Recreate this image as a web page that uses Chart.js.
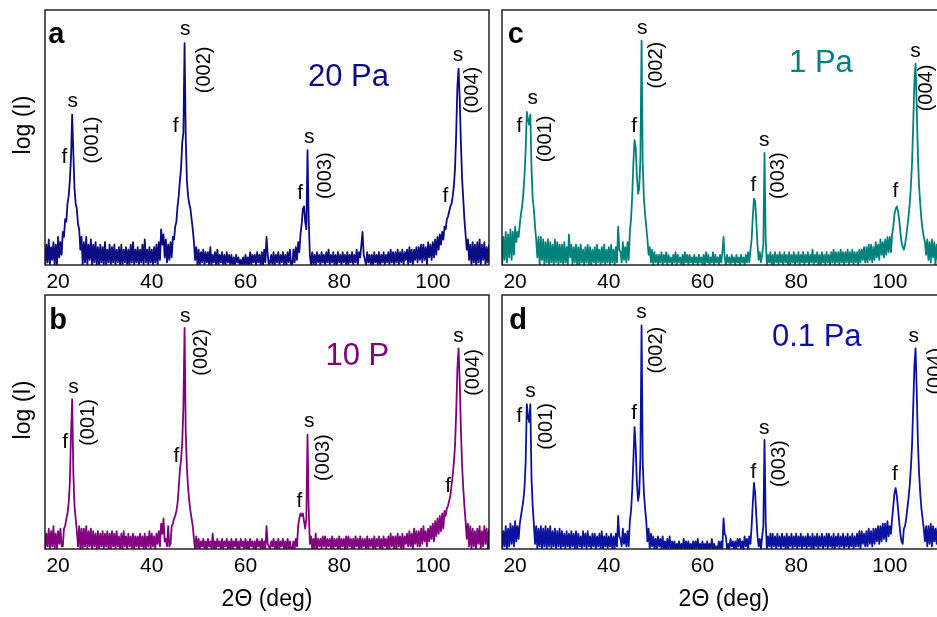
<!DOCTYPE html>
<html>
<head>
<meta charset="utf-8">
<script src="https://cdn.jsdelivr.net/npm/chart.js@4.4.1/dist/chart.umd.min.js"></script>
<style>
  html, body { margin: 0; padding: 0; background: #fff; overflow: hidden; width: 937px; height: 617px; }
  canvas { position: absolute; }
</style>
</head>
<body>
<canvas id="pa" width="495" height="295" style="left:0;top:0"></canvas>
<canvas id="pc" width="495" height="295" style="left:457px;top:0"></canvas>
<canvas id="pb" width="495" height="332" style="left:0;top:285px"></canvas>
<canvas id="pd" width="495" height="332" style="left:457px;top:285px"></canvas>
<script>
// 2theta scan points (deg), one row = 5 deg
const twoTheta = [
  17, 17.25, 17.5, 17.75, 18, 18.25, 18.5, 18.75, 19, 19.25, 19.5, 19.75, 20, 20.25, 20.5, 20.75, 21, 21.25, 21.5, 21.75,
  22, 22.25, 22.5, 22.75, 23, 23.25, 23.5, 23.75, 24, 24.25, 24.5, 24.75, 25, 25.25, 25.5, 25.75, 26, 26.25, 26.5, 26.75,
  27, 27.25, 27.5, 27.75, 28, 28.25, 28.5, 28.75, 29, 29.25, 29.5, 29.75, 30, 30.25, 30.5, 30.75, 31, 31.25, 31.5, 31.75,
  32, 32.25, 32.5, 32.75, 33, 33.25, 33.5, 33.75, 34, 34.25, 34.5, 34.75, 35, 35.25, 35.5, 35.75, 36, 36.25, 36.5, 36.75,
  37, 37.25, 37.5, 37.75, 38, 38.25, 38.5, 38.75, 39, 39.25, 39.5, 39.75, 40, 40.25, 40.5, 40.75, 41, 41.25, 41.5, 41.75,
  42, 42.25, 42.5, 42.75, 43, 43.25, 43.5, 43.75, 44, 44.25, 44.5, 44.75, 45, 45.25, 45.5, 45.75, 46, 46.25, 46.5, 46.75,
  47, 47.25, 47.5, 47.75, 48, 48.25, 48.5, 48.75, 49, 49.25, 49.5, 49.75, 50, 50.25, 50.5, 50.75, 51, 51.25, 51.5, 51.75,
  52, 52.25, 52.5, 52.75, 53, 53.25, 53.5, 53.75, 54, 54.25, 54.5, 54.75, 55, 55.25, 55.5, 55.75, 56, 56.25, 56.5, 56.75,
  57, 57.25, 57.5, 57.75, 58, 58.25, 58.5, 58.75, 59, 59.25, 59.5, 59.75, 60, 60.25, 60.5, 60.75, 61, 61.25, 61.5, 61.75,
  62, 62.25, 62.5, 62.75, 63, 63.25, 63.5, 63.75, 64, 64.25, 64.5, 64.75, 65, 65.25, 65.5, 65.75, 66, 66.25, 66.5, 66.75,
  67, 67.25, 67.5, 67.75, 68, 68.25, 68.5, 68.75, 69, 69.25, 69.5, 69.75, 70, 70.25, 70.5, 70.75, 71, 71.25, 71.5, 71.75,
  72, 72.25, 72.5, 72.75, 73, 73.25, 73.5, 73.75, 74, 74.25, 74.5, 74.75, 75, 75.25, 75.5, 75.75, 76, 76.25, 76.5, 76.75,
  77, 77.25, 77.5, 77.75, 78, 78.25, 78.5, 78.75, 79, 79.25, 79.5, 79.75, 80, 80.25, 80.5, 80.75, 81, 81.25, 81.5, 81.75,
  82, 82.25, 82.5, 82.75, 83, 83.25, 83.5, 83.75, 84, 84.25, 84.5, 84.75, 85, 85.25, 85.5, 85.75, 86, 86.25, 86.5, 86.75,
  87, 87.25, 87.5, 87.75, 88, 88.25, 88.5, 88.75, 89, 89.25, 89.5, 89.75, 90, 90.25, 90.5, 90.75, 91, 91.25, 91.5, 91.75,
  92, 92.25, 92.5, 92.75, 93, 93.25, 93.5, 93.75, 94, 94.25, 94.5, 94.75, 95, 95.25, 95.5, 95.75, 96, 96.25, 96.5, 96.75,
  97, 97.25, 97.5, 97.75, 98, 98.25, 98.5, 98.75, 99, 99.25, 99.5, 99.75, 100, 100.25, 100.5, 100.75, 101, 101.25, 101.5, 101.75,
  102, 102.25, 102.5, 102.75, 103, 103.25, 103.5, 103.75, 104, 104.25, 104.5, 104.75, 105, 105.25, 105.5, 105.75, 106, 106.25, 106.5, 106.75,
  107, 107.25, 107.5, 107.75, 108, 108.25, 108.5, 108.75, 109, 109.25, 109.5, 109.75, 110, 110.25, 110.5, 110.75, 111, 111.25, 111.5, 111.75,
  112
];

// log(I), arbitrary units (0 = frame bottom, 100 = frame top)
const logI_20Pa = [
  9, 0, 8, 1, 10, 0, 7, 2, 9, 0, 8, 0, 11, 3, 9, 4, 13, 11, 18, 17,
  24, 27, 33, 42, 59, 44, 30, 24, 22, 16, 14, 6, 11, 0, 9, 1, 11, 0, 8, 2,
  10, 0, 8, 1, 9, 0, 7, 0, 8, 1, 7, 0, 9, 0, 6, 1, 8, 0, 7, 1,
  8, 0, 6, 1, 7, 0, 8, 0, 6, 1, 7, 0, 6, 0, 8, 1, 9, 0, 6, 1,
  7, 0, 6, 1, 8, 0, 10, 1, 6, 0, 7, 1, 6, 0, 7, 1, 8, 0, 9, 2,
  14, 8, 12, 3, 10, 1, 8, 2, 9, 3, 11, 10, 15, 17, 23, 27, 33, 38, 48, 52,
  87, 50, 33, 27, 24, 22, 18, 14, 9, 2, 7, 0, 6, 0, 5, 1, 6, 0, 5, 1,
  5, 0, 7, 0, 4, 1, 5, 0, 6, 0, 4, 1, 5, 0, 4, 0, 5, 1, 4, 0,
  4, 0, 3, 0, 4, 1, 3, 0, 2, 0, 3, 0, 4, 0, 3, 0, 5, 0, 4, 1,
  4, 0, 5, 1, 4, 0, 5, 0, 6, 1, 11, 4, 0, 1, 4, 0, 5, 0, 4, 1,
  5, 0, 4, 1, 5, 0, 4, 0, 5, 1, 6, 0, 0, 6, 1, 7, 2, 9, 5, 12,
  16, 22, 23, 17, 14, 45, 18, 4, 0, 5, 0, 4, 0, 5, 1, 4, 0, 5, 1, 4,
  0, 5, 1, 6, 0, 4, 1, 5, 0, 4, 0, 5, 1, 4, 0, 5, 1, 4, 0, 5,
  0, 4, 1, 5, 0, 4, 1, 6, 0, 5, 3, 8, 13, 4, 2, 0, 5, 1, 4, 0,
  4, 0, 5, 1, 4, 0, 5, 0, 4, 1, 5, 0, 4, 1, 5, 0, 6, 1, 5, 0,
  5, 1, 6, 0, 5, 1, 6, 0, 5, 2, 6, 0, 7, 1, 6, 0, 6, 2, 7, 1,
  7, 2, 8, 1, 8, 2, 7, 0, 9, 3, 8, 2, 9, 3, 10, 4, 11, 6, 12, 8,
  13, 10, 15, 14, 18, 19, 21, 23, 24, 27, 31, 38, 52, 70, 77, 65, 48, 34, 26, 18,
  12, 6, 10, 2, 8, 0, 9, 1, 8, 0, 9, 1, 10, 0, 8, 2, 9, 0, 7, 1,
  8
];
const logI_10Pa = [
  7, 0, 6, 1, 8, 0, 7, 1, 9, 0, 6, 0, 7, 2, 8, 1, 1, 8, 9, 12,
  14, 18, 26, 45, 59, 30, 17, 12, 7, 1, 9, 0, 8, 0, 8, 1, 9, 0, 7, 1,
  8, 0, 7, 1, 6, 0, 7, 0, 6, 1, 7, 0, 6, 1, 7, 0, 6, 0, 7, 1,
  6, 0, 7, 1, 5, 0, 6, 0, 7, 1, 5, 0, 6, 1, 5, 0, 6, 0, 5, 1,
  5, 0, 6, 1, 5, 0, 6, 0, 5, 1, 7, 0, 6, 1, 5, 0, 6, 2, 7, 1,
  10, 6, 12, 3, 4, 1, 9, 1, 2, 9, 10, 12, 13, 15, 18, 24, 31, 35, 42, 56,
  87, 46, 32, 24, 19, 15, 12, 9, 4, 0, 5, 0, 4, 0, 3, 1, 4, 0, 3, 0,
  4, 1, 3, 0, 6, 0, 3, 0, 4, 1, 3, 0, 4, 0, 3, 1, 4, 0, 3, 0,
  4, 0, 3, 1, 4, 0, 3, 0, 4, 1, 3, 0, 4, 0, 3, 0, 4, 1, 3, 0,
  3, 0, 4, 1, 3, 0, 4, 0, 3, 0, 9, 2, 1, 0, 3, 1, 4, 0, 3, 0,
  4, 0, 3, 1, 4, 0, 3, 0, 4, 0, 3, 0, 0, 3, 0, 4, 1, 9, 12, 14,
  13, 14, 11, 8, 12, 45, 16, 2, 5, 0, 4, 0, 6, 0, 4, 1, 4, 0, 5, 1,
  5, 0, 4, 1, 4, 0, 5, 0, 4, 1, 4, 0, 5, 0, 4, 1, 4, 0, 5, 0,
  5, 1, 4, 0, 4, 0, 5, 1, 4, 0, 5, 0, 4, 1, 4, 0, 5, 0, 4, 1,
  4, 0, 5, 0, 4, 1, 5, 0, 4, 0, 5, 1, 4, 0, 5, 0, 6, 1, 5, 0,
  5, 0, 6, 1, 5, 0, 6, 0, 5, 2, 6, 1, 7, 1, 6, 0, 8, 2, 7, 1,
  7, 1, 8, 2, 9, 3, 7, 1, 8, 3, 9, 4, 10, 3, 11, 5, 12, 6, 13, 7,
  14, 8, 15, 13, 16, 17, 19, 21, 25, 29, 34, 41, 54, 71, 79, 66, 47, 33, 24, 17,
  11, 4, 10, 1, 9, 0, 8, 1, 7, 0, 8, 2, 9, 0, 7, 1, 9, 2, 8, 0,
  8
];
const logI_1Pa = [
  12, 0, 11, 2, 13, 1, 12, 3, 14, 2, 13, 4, 15, 9, 13, 11, 16, 20, 23, 28,
  35, 45, 60, 57, 55, 59, 38, 26, 22, 15, 10, 3, 11, 0, 11, 2, 10, 0, 9, 1,
  10, 0, 9, 1, 8, 0, 10, 1, 9, 0, 8, 1, 8, 0, 9, 1, 7, 0, 12, 3,
  8, 0, 7, 1, 8, 0, 7, 0, 8, 1, 6, 0, 7, 1, 8, 0, 7, 0, 6, 1,
  7, 0, 8, 1, 6, 0, 7, 1, 8, 0, 6, 1, 7, 0, 8, 1, 6, 0, 7, 1,
  15, 6, 5, 1, 9, 2, 7, 1, 9, 2, 13, 18, 27, 40, 49, 46, 35, 28, 30, 42,
  88, 40, 26, 20, 15, 10, 4, 7, 1, 6, 0, 5, 1, 4, 0, 4, 1, 5, 0, 4,
  1, 5, 0, 4, 1, 3, 0, 4, 1, 5, 0, 4, 1, 3, 0, 4, 0, 5, 1, 4,
  0, 4, 1, 3, 0, 4, 1, 3, 0, 4, 1, 3, 0, 4, 0, 5, 1, 4, 0, 3,
  1, 5, 0, 4, 1, 3, 0, 4, 1, 5, 11, 3, 0, 4, 1, 3, 0, 4, 1, 3,
  0, 4, 1, 3, 0, 4, 1, 3, 0, 4, 1, 5, 1, 6, 10, 19, 26, 25, 17, 8,
  2, 5, 1, 4, 8, 44, 10, 0, 4, 1, 5, 0, 4, 0, 5, 1, 4, 0, 5, 1,
  4, 0, 5, 1, 4, 0, 5, 0, 4, 1, 5, 0, 4, 1, 5, 0, 4, 1, 5, 0,
  4, 1, 5, 0, 4, 1, 6, 0, 4, 1, 5, 0, 4, 0, 5, 1, 4, 0, 5, 1,
  4, 0, 5, 1, 6, 0, 5, 1, 5, 0, 6, 1, 5, 0, 5, 1, 6, 0, 5, 1,
  6, 0, 5, 1, 5, 0, 6, 1, 6, 2, 7, 1, 7, 1, 8, 2, 8, 1, 7, 2,
  9, 3, 8, 2, 10, 4, 9, 3, 10, 4, 11, 5, 11, 5, 12, 15, 20, 22, 23, 21,
  18, 13, 9, 7, 6, 8, 11, 15, 19, 24, 31, 40, 55, 72, 79, 62, 43, 31, 24, 18,
  14, 11, 9, 4, 10, 2, 9, 1, 10, 3, 9, 0, 8, 2, 10, 1, 9, 3, 8, 1,
  9
];
const logI_01Pa = [
  8, 0, 7, 1, 9, 0, 8, 1, 10, 2, 9, 1, 11, 3, 9, 4, 10, 13, 16, 19,
  24, 34, 57, 52, 50, 57, 28, 17, 10, 2, 9, 0, 8, 1, 9, 0, 8, 1, 9, 0,
  8, 1, 9, 0, 7, 1, 8, 0, 7, 1, 8, 0, 7, 1, 6, 0, 7, 1, 6, 0,
  7, 1, 6, 0, 7, 0, 6, 1, 5, 0, 7, 1, 6, 0, 7, 1, 5, 0, 6, 1,
  6, 0, 5, 1, 6, 0, 7, 0, 5, 1, 6, 0, 5, 1, 6, 0, 5, 0, 6, 1,
  13, 5, 4, 1, 8, 2, 6, 1, 7, 1, 11, 15, 23, 35, 48, 40, 26, 19, 22, 36,
  88, 34, 22, 16, 11, 3, 8, 0, 6, 1, 5, 0, 4, 0, 5, 1, 4, 0, 5, 0,
  3, 0, 4, 0, 5, 0, 3, 0, 3, 0, 2, 0, 3, 0, 2, 0, 4, 0, 3, 0,
  3, 0, 2, 0, 3, 0, 3, 0, 4, 0, 2, 0, 3, 0, 2, 0, 3, 0, 2, 0,
  4, 0, 2, 0, 1, 0, 3, 0, 3, 0, 12, 6, 5, 0, 2, 0, 4, 1, 3, 0,
  3, 0, 4, 1, 4, 0, 3, 0, 5, 1, 4, 0, 5, 2, 9, 18, 26, 22, 13, 5,
  1, 4, 0, 5, 9, 43, 11, 0, 5, 1, 6, 0, 6, 1, 5, 0, 6, 1, 5, 0,
  6, 1, 5, 0, 6, 0, 5, 1, 6, 0, 5, 1, 6, 0, 5, 1, 6, 0, 5, 1,
  5, 0, 6, 1, 5, 0, 6, 0, 5, 1, 6, 0, 5, 1, 6, 0, 5, 1, 6, 0,
  6, 1, 5, 0, 6, 0, 5, 1, 6, 0, 5, 1, 6, 0, 5, 1, 6, 0, 5, 1,
  6, 0, 5, 1, 6, 1, 7, 0, 7, 2, 6, 1, 7, 1, 8, 2, 7, 1, 8, 2,
  8, 3, 9, 2, 9, 3, 10, 4, 10, 3, 11, 5, 9, 6, 12, 17, 22, 24, 21, 16,
  11, 6, 3, 2, 8, 9, 12, 16, 20, 25, 32, 41, 56, 72, 79, 62, 42, 30, 22, 16,
  12, 8, 3, 9, 1, 9, 2, 10, 1, 9, 3, 8, 2, 9, 1, 10, 2, 9, 3, 8,
  2
];

const xTicks = [20, 40, 60, 80, 100];
const xMin = 17.2, xMax = 112;

// peak labels: [text, 2theta, logI, rotated]
const notes20Pa = [
  ['s', 23.13, 62.1], ['f', 21.34, 39.9], ['(001)', 27.3, 49, 1],
  ['s', 47.17, 90.2], ['f', 45.1, 52.3], ['(002)', 51.3, 76.5, 1],
  ['s', 73.6, 47.7], ['f', 71.7, 25.8], ['(003)', 77, 35, 1],
  ['s', 105.4, 80.1], ['f', 102.7, 24.8], ['(004)', 108.5, 68.6, 1]
];
const notes10Pa = [
  ['s', 23.26, 61.3], ['f', 21.5, 39.6], ['(001)', 26.4, 49.8, 1],
  ['s', 47.17, 89.5], ['f', 45.25, 34.4], ['(002)', 50.6, 77.4, 1],
  ['s', 73.6, 47.9], ['f', 71.5, 16.7], ['(003)', 76.6, 36, 1],
  ['s', 105.5, 81.6], ['f', 103.3, 22.6], ['(004)', 108.7, 69.5, 1]
];
const notes1Pa = [
  ['s', 23.77, 63.1], ['f', 20.9, 52.3], ['(001)', 26.4, 49.4, 1],
  ['s', 47.17, 90.6], ['f', 45.4, 52.3], ['(002)', 50.1, 78.4, 1],
  ['s', 73.2, 46.7], ['f', 70.9, 29.1], ['(003)', 76.2, 35, 1],
  ['s', 105.5, 81.4], ['f', 101.2, 26.5], ['(004)', 107.9, 69.4, 1]
];
const notes01Pa = [
  ['s', 23.3, 60], ['f', 20.9, 49.9], ['(001)', 26.6, 48.3, 1],
  ['s', 47, 90.8], ['f', 45.4, 51], ['(002)', 50.1, 78.3, 1],
  ['s', 73.2, 45.1], ['f', 70.9, 27.9], ['(003)', 76.4, 33.6, 1],
  ['s', 105.1, 81.3], ['f', 101.1, 27.3], ['(004)', 109.8, 70, 1]
];

const FONT = '"Liberation Sans", Arial, sans-serif';

const panels = {
  pa: { series: logI_20Pa, color: '#0b0b84', letter: ['a', 19.62, 86.9], label: ['20 Pa', 82.0, 70.2], notes: notes20Pa, yTitle: true, xTitle: false },
  pb: { series: logI_10Pa, color: '#820080', letter: ['b', 20.0, 86.5], label: ['10 P', 83.9, 72.4], notes: notes10Pa, yTitle: true, xTitle: true },
  pc: { series: logI_1Pa, color: '#00827c', letter: ['c', 20.17, 86.9], label: ['1 Pa', 85.3, 75.8], notes: notes1Pa, yTitle: false, xTitle: false },
  pd: { series: logI_01Pa, color: '#0c12a0', letter: ['d', 20.64, 86.6], label: ['0.1 Pa', 84.4, 80.0], notes: notes01Pa, yTitle: false, xTitle: true }
};

const panelText = {
  id: 'panelText',
  afterDatasetsDraw(chart) {
    const p = panels[chart.canvas.id];
    const ctx = chart.ctx, a = chart.chartArea;
    const xs = chart.scales.x, ys = chart.scales.y;
    ctx.save();
    ctx.strokeStyle = '#151515';
    ctx.lineWidth = 1.4;
    ctx.strokeRect(a.left, a.top, a.right - a.left, a.bottom - a.top);

    ctx.fillStyle = '#000';
    ctx.textAlign = 'center';
    p.notes.forEach(n => {
      const px = xs.getPixelForValue(n[1]), py = ys.getPixelForValue(n[2]);
      if (n[3]) {
        ctx.save();
        ctx.translate(px, py);
        ctx.rotate(-Math.PI / 2);
        ctx.textBaseline = 'middle';
        ctx.font = '20px ' + FONT;
        ctx.fillText(n[0], 0, 0);
        ctx.restore();
      } else {
        ctx.textBaseline = 'alphabetic';
        ctx.font = '21px ' + FONT;
        ctx.fillText(n[0], px, py);
      }
    });

    ctx.textBaseline = 'alphabetic';
    ctx.font = 'bold 29px ' + FONT;
    ctx.fillText(p.letter[0], xs.getPixelForValue(p.letter[1]), ys.getPixelForValue(p.letter[2]));

    ctx.fillStyle = p.color;
    ctx.font = '31px ' + FONT;
    ctx.fillText(p.label[0], xs.getPixelForValue(p.label[1]), ys.getPixelForValue(p.label[2]));

    if (p.yTitle) {
      ctx.fillStyle = '#000';
      ctx.translate(a.left - 21, a.top + 115);
      ctx.rotate(-Math.PI / 2);
      ctx.textBaseline = 'middle';
      ctx.font = '23px ' + FONT;
      ctx.fillText('log (I)', 0, 0);
    }
    ctx.restore();
  }
};

Object.keys(panels).forEach(id => {
  const p = panels[id];
  const canvas = document.getElementById(id);
  new Chart(canvas, {
    type: 'line',
    data: {
      datasets: [{
        data: twoTheta.map((x, i) => ({ x: x, y: p.series[i] })),
        borderColor: p.color,
        borderWidth: 1.8,
        borderJoinStyle: 'round',
        pointRadius: 0,
        tension: 0,
        fill: false
      }]
    },
    options: {
      responsive: false,
      animation: false,
      events: [],
      layout: { padding: { left: 45, right: 6, top: 10, bottom: 0 } },
      plugins: { legend: { display: false }, tooltip: { enabled: false } },
      scales: {
        x: {
          type: 'linear',
          min: xMin,
          max: xMax,
          grid: { display: false, drawTicks: false },
          border: { display: false },
          afterBuildTicks: s => { s.ticks = xTicks.map(v => ({ value: v })); },
          afterFit: s => { s.height = p.xTitle ? 68 : 30; },
          ticks: { color: '#000', font: { family: FONT, size: 21 }, padding: 5, maxRotation: 0 },
          title: { display: p.xTitle, text: '2\u0398 (deg)', color: '#000', font: { family: FONT, size: 23 } }
        },
        y: { display: false, min: 0, max: 100 }
      }
    },
    plugins: [panelText]
  });
});
</script>
</body>
</html>
